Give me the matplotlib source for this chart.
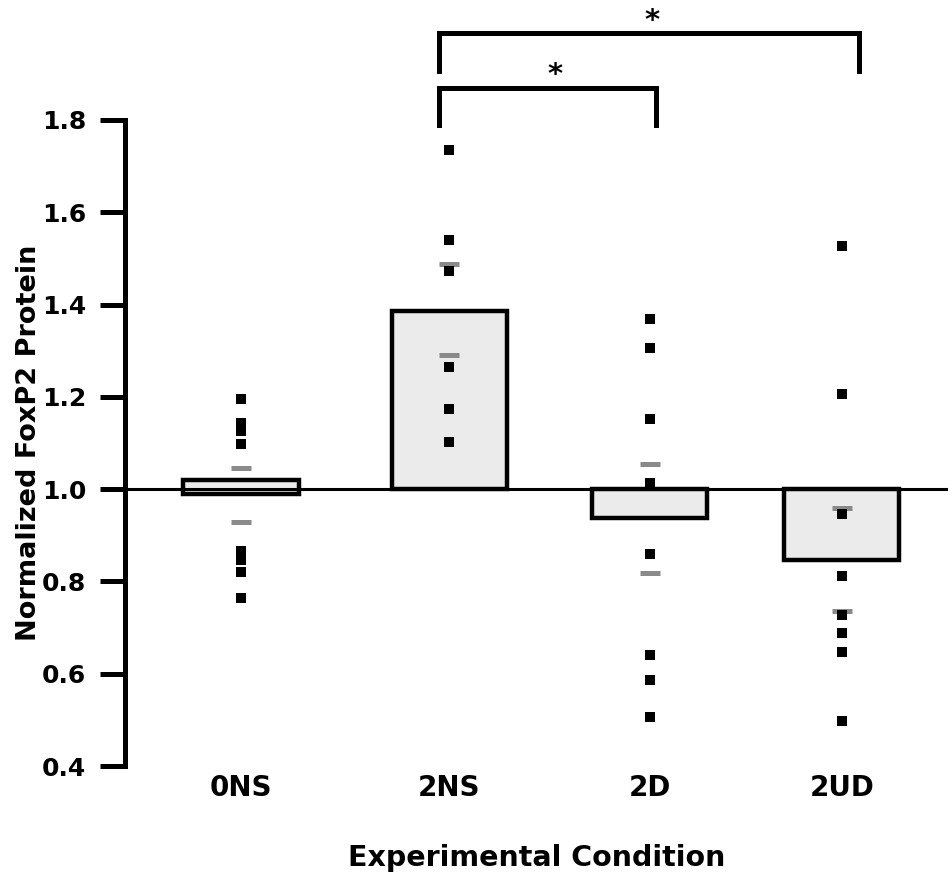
import matplotlib
matplotlib.use("Agg")
import matplotlib.pyplot as plt

plt.rcParams['font.family'] = ['DejaVu Sans']
plt.rcParams['font.weight'] = 'bold'

# groups and bar geometry
conditions = ['0NS', '2NS', '2D', '2UD']
xpos = [0.0, 1.04, 2.04, 3.0]
bar_bottom = [0.99, 1.0, 1.0, 1.0]
bar_top = [1.02, 1.385, 0.937, 0.846]

# individual animals
points = [
    [1.195, 1.143, 1.126, 1.097, 0.866, 0.846, 0.820, 0.764],
    [1.736, 1.541, 1.472, 1.264, 1.173, 1.102],
    [1.368, 1.305, 1.152, 1.013, 0.859, 0.641, 0.587, 0.507],
    [1.526, 1.206, 0.946, 0.812, 0.727, 0.688, 0.647, 0.498],
]
# grey marks (upper / lower)
spread = [
    [1.045, 0.929],
    [1.487, 1.290],
    [1.054, 0.818],
    [0.959, 0.736],
]

fig = plt.figure(figsize=(9.53, 8.83), dpi=100)
ax = fig.add_axes([0.1312, 0.1325, 0.8636, 0.7316])

for i in range(len(conditions)):
    ax.bar(xpos[i], bar_top[i] - bar_bottom[i], bottom=bar_bottom[i], width=0.575,
           color='#ebebeb', edgecolor='black', linewidth=3.2, zorder=2)

ax.axhline(1.0, color='black', linewidth=2.2, zorder=3)

for i in range(len(conditions)):
    ax.plot([xpos[i]] * len(spread[i]), spread[i], linestyle='none', marker='_',
            markersize=15, markeredgewidth=3.6, color='#8a8a8a', zorder=4)
    ax.plot([xpos[i]] * len(points[i]), points[i], linestyle='none', marker='s',
            markersize=6.8, color='black', markeredgewidth=0, zorder=5)

# significance brackets
def bracket(x0, x1, top, leg, label_x, label_y):
    ax.plot([x0, x0, x1, x1], [leg, top, top, leg], color='black', linewidth=3.6,
            solid_joinstyle='miter', clip_on=False, zorder=6)
    ax.text(label_x, label_y, '*', ha='center', va='center', fontsize=21,
            fontweight='bold', clip_on=False)

bracket(0.99, 2.07, 1.870, 1.790, 1.57, 1.897)
bracket(0.99, 3.085, 1.989, 1.907, 2.05, 2.014)

ax.set_xlim(-0.579, 3.53)
ax.set_ylim(0.4, 1.8)
ax.set_yticks([0.4, 0.6, 0.8, 1.0, 1.2, 1.4, 1.6, 1.8])
ax.set_yticklabels(['0.4', '0.6', '0.8', '1.0', '1.2', '1.4', '1.6', '1.8'])
ax.set_xticks(xpos)
ax.set_xticklabels(conditions)

for side in ['top', 'right', 'bottom']:
    ax.spines[side].set_visible(False)
ax.spines['left'].set_linewidth(3.6)
ax.tick_params(axis='y', length=18, width=3.6, pad=10, labelsize=18)
ax.tick_params(axis='x', length=0, pad=6, labelsize=20)
for lab in ax.get_xticklabels() + ax.get_yticklabels():
    lab.set_fontweight('bold')

ax.set_ylabel('Normalized FoxP2 Protein', fontsize=19.5, fontweight='bold', labelpad=0)
ax.set_xlabel('Experimental Condition', fontsize=20.5, fontweight='bold', labelpad=30)

fig.savefig('out.png', dpi=100)
